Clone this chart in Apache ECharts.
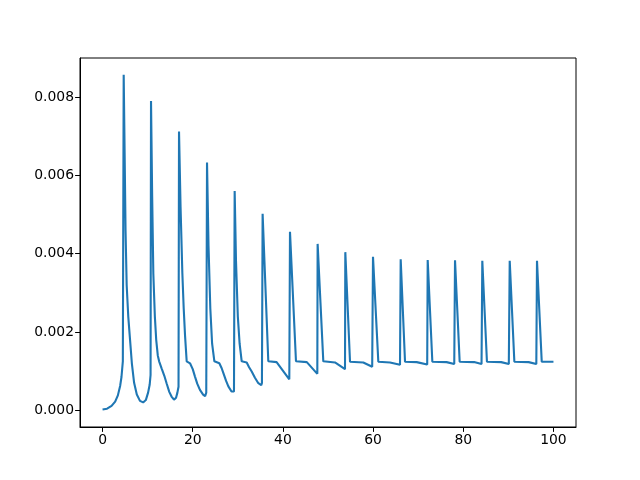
<!DOCTYPE html>
<html>
<head>
<meta charset="utf-8">
<script src="https://cdn.jsdelivr.net/npm/echarts@6/dist/echarts.min.js"></script>
<style>html,body{margin:0;padding:0;background:#fff;}#c{width:640px;height:480px;}</style>
</head>
<body>
<div id="c"></div>
<script>
const xTicks = [0, 20, 40, 60, 80, 100];
const yTicks = [0, 0.002, 0.004, 0.006, 0.008];

const tValues = [
  0, 1.0, 2.0, 2.8, 3.4, 3.9, 4.2, 4.5, 4.69,
  5.1, 5.35, 5.7, 6.1, 6.5, 7.0, 7.6, 8.3, 9.0, 9.6, 10.1, 10.45, 10.65, 10.75,
  11.0, 11.26, 11.6, 11.9, 12.25, 12.55, 13.1, 13.7, 14.2, 14.8, 15.3, 15.85, 16.3, 16.6, 16.85, 16.96,
  17.3, 17.7, 18.0, 18.3, 18.66, 19.4, 20.0, 20.5, 21.0, 21.6, 22.3, 22.75, 23.0, 23.17,
  23.5, 23.9, 24.3, 24.8, 25.9, 26.4, 26.8, 27.4, 27.9, 28.6, 29.15, 29.3,
  29.6, 30.0, 30.4, 30.86, 31.97, 32.5, 33.08, 33.8, 34.55, 35.2, 35.35, 35.5,
  36.76, 38.6, 38.98, 41.42, 41.57,
  42.9, 45.3, 47.63, 47.7,
  48.96, 51.55, 53.77, 53.84,
  54.88, 57.83, 59.8, 59.98,
  61.16, 63.75, 65.97, 66.12,
  67.08, 69.67, 72.0, 72.11,
  73.14, 76.3, 78.0, 78.17,
  79.2, 82.4, 84.05, 84.22,
  85.25, 88.4, 90.1, 90.3,
  91.33, 94.5, 96.2, 96.35,
  97.4, 100
];
const concValues = [
  0.00002, 0.00004, 0.00011, 0.00022, 0.00038, 0.00062, 0.00085, 0.00125, 0.00857,
  0.0046, 0.0032, 0.0024, 0.0018, 0.0012, 0.0007, 0.0004, 0.00024, 0.0002, 0.00026, 0.00045, 0.00065, 0.0009, 0.0079,
  0.0055, 0.0035, 0.0024, 0.0018, 0.0014, 0.00125, 0.00107, 0.00088, 0.00069, 0.00047, 0.00035, 0.00027, 0.00032, 0.00045, 0.0006, 0.00712,
  0.0052, 0.0035, 0.0026, 0.0019, 0.00125, 0.0012, 0.00105, 0.00086, 0.00068, 0.00052, 0.0004, 0.00036, 0.00045, 0.00633,
  0.0042, 0.0026, 0.0017, 0.00125, 0.0012, 0.00108, 0.00095, 0.00075, 0.00061, 0.00048, 0.00048, 0.0056,
  0.0038, 0.0024, 0.0017, 0.00125, 0.00122, 0.0011, 0.00099, 0.00083, 0.00069, 0.00064, 0.0007, 0.00502,
  0.00125, 0.00123, 0.0012, 0.00079, 0.00456,
  0.00125, 0.00123, 0.00093, 0.00425,
  0.00125, 0.00122, 0.00105, 0.00404,
  0.00124, 0.00122, 0.00111, 0.00392,
  0.00124, 0.00122, 0.00116, 0.00386,
  0.00124, 0.00123, 0.00117, 0.00384,
  0.00124, 0.00123, 0.00118, 0.00383,
  0.00124, 0.00123, 0.00118, 0.00382,
  0.00124, 0.00123, 0.00118, 0.00382,
  0.00124, 0.00123, 0.00118, 0.00382,
  0.00124, 0.00124
];

const seriesData = tValues.map((t, i) => [t, concValues[i]]);
const font = 'DejaVu Sans';

const chart = echarts.init(document.getElementById('c'), null, {renderer: 'canvas'});
chart.setOption({
  animation: false,
  backgroundColor: '#ffffff',
  grid: {left: 80, right: 64, top: 58, bottom: 53, show: true, borderColor: '#000', borderWidth: 1, backgroundColor: 'transparent'},
  xAxis: {
    type: 'value', min: -5, max: 105,
    axisLine: {show: true, onZero: false, lineStyle: {color: '#000', width: 1}},
    axisTick: {show: true, length: 4.9, lineStyle: {color: '#000', width: 1}, customValues: xTicks},
    axisLabel: {color: '#000', fontFamily: font, fontSize: 13.9, margin: 6, customValues: xTicks, formatter: v => String(v)},
    splitLine: {show: false}
  },
  yAxis: {
    type: 'value', min: -0.000428, max: 0.009,
    axisLine: {show: true, onZero: false, lineStyle: {color: '#000', width: 1}},
    axisTick: {show: true, length: 4.9, lineStyle: {color: '#000', width: 1}, customValues: yTicks},
    axisLabel: {color: '#000', fontFamily: font, fontSize: 13.9, margin: 6, customValues: yTicks, formatter: v => v.toFixed(3)},
    splitLine: {show: false}
  },
  series: [{
    type: 'line', data: seriesData, showSymbol: false, symbol: 'none',
    lineStyle: {color: '#1f77b4', width: 2.1}, smooth: false
  }]
});
</script>
</body>
</html>
